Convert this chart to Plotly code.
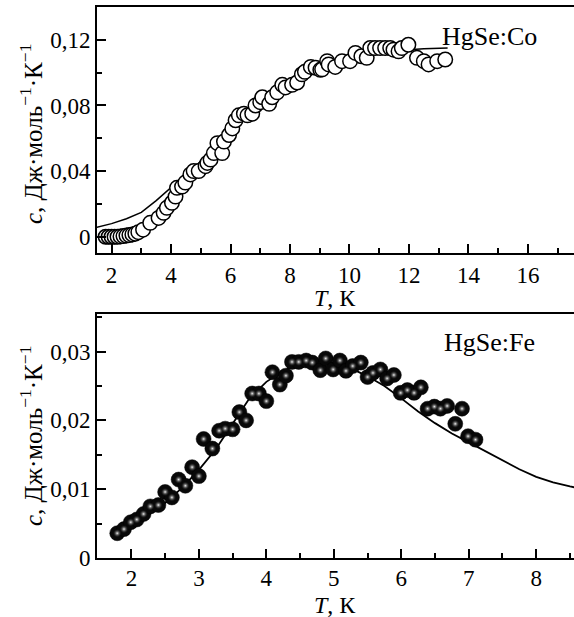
import plotly.graph_objects as go

# ---------------- data: HgSe:Co (top panel) ----------------
co_T = [1.80, 1.90, 2.00, 2.10, 2.20, 2.30, 2.40, 2.50, 2.60, 2.70, 2.80, 2.90,
        3.06, 3.30, 3.58, 3.75, 3.86, 4.03, 4.15, 4.20, 4.37, 4.48, 4.65, 4.76,
        4.93, 5.16, 5.22, 5.33, 5.44, 5.56, 5.72, 5.78, 5.95, 6.06, 6.17, 6.28,
        6.45, 6.57, 6.73, 6.84, 7.00, 7.07, 7.30, 7.40, 7.57, 7.74, 7.85, 8.07,
        8.24, 8.40, 8.50, 8.70, 8.86, 9.02, 9.08, 9.25, 9.30, 9.52, 9.75, 10.02,
        10.20, 10.40, 10.58, 10.70, 10.86, 11.03, 11.20, 11.37, 11.48, 11.65,
        11.76, 11.98, 12.27, 12.50, 12.66, 12.95, 13.22]
co_c = [0.0000, 0.0000, 0.0000, 0.0000, 0.0000, 0.0002, 0.0004, 0.0007, 0.0010, 0.0014, 0.0019, 0.0028,
        0.0043, 0.0085, 0.0115, 0.0146, 0.0176, 0.0207, 0.0245, 0.0298, 0.0306, 0.0330, 0.0380, 0.0400,
        0.0400, 0.0430, 0.0450, 0.0470, 0.0510, 0.0570, 0.0510, 0.0580, 0.0620, 0.0660, 0.0710, 0.0740,
        0.0750, 0.0740, 0.0750, 0.0800, 0.0820, 0.0850, 0.0810, 0.0850, 0.0880, 0.0926, 0.0910, 0.0926,
        0.0940, 0.0990, 0.1005, 0.1035, 0.1030, 0.1017, 0.1020, 0.1070, 0.1050, 0.1035, 0.1070, 0.1070,
        0.1120, 0.1100, 0.1090, 0.1150, 0.1150, 0.1150, 0.1150, 0.1150, 0.1140, 0.1130,
        0.1150, 0.1170, 0.1090, 0.1070, 0.1050, 0.1070, 0.1080]

co_fit_T = [1.5, 2.0, 2.5, 3.0, 3.5, 4.0, 4.5, 5.0, 5.5, 6.0, 6.5, 7.0, 7.5, 8.0,
            8.5, 9.0, 9.5, 10.0, 10.5, 11.0, 11.5, 12.0, 12.5, 13.0, 13.3]
co_fit_c = [0.0057, 0.0080, 0.0110, 0.0148, 0.0220, 0.0300, 0.0380, 0.0460, 0.0550, 0.0640,
            0.0720, 0.0800, 0.0870, 0.0920, 0.0970, 0.1010, 0.1050, 0.1080, 0.1100, 0.1120,
            0.1130, 0.1140, 0.1145, 0.1150, 0.1150]

# ---------------- data: HgSe:Fe (bottom panel) ----------------
fe_T = [1.79, 1.89, 1.99, 2.08, 2.18, 2.28, 2.40, 2.50, 2.60, 2.70, 2.80, 2.90,
        3.00, 3.07, 3.20, 3.30, 3.39, 3.50, 3.60, 3.70, 3.79, 3.89, 4.00, 4.09,
        4.20, 4.29, 4.38, 4.48, 4.59, 4.68, 4.80, 4.88, 4.99, 5.09, 5.18, 5.28,
        5.40, 5.50, 5.58, 5.69, 5.79, 5.89, 5.99, 6.09, 6.19, 6.29, 6.39, 6.49,
        6.58, 6.68, 6.80, 6.90, 6.99, 7.10]
fe_c = [0.0036, 0.0042, 0.0052, 0.0056, 0.0064, 0.0075, 0.0077, 0.0096, 0.0088, 0.0114, 0.0105, 0.0132,
        0.0119, 0.0173, 0.0159, 0.0185, 0.0188, 0.0187, 0.0212, 0.0200, 0.0239, 0.0239, 0.0228, 0.0270,
        0.0252, 0.0265, 0.0285, 0.0285, 0.0287, 0.0284, 0.0273, 0.0290, 0.0274, 0.0287, 0.0272, 0.0279,
        0.0284, 0.0263, 0.0269, 0.0274, 0.0261, 0.0266, 0.0240, 0.0244, 0.0240, 0.0248, 0.0217, 0.0220,
        0.0217, 0.0221, 0.0195, 0.0217, 0.0177, 0.0172]

fe_fit_T = [1.8, 2.0, 2.25, 2.5, 2.75, 3.0, 3.25, 3.5, 3.75, 4.0, 4.25, 4.5, 4.75, 5.0,
            5.25, 5.5, 5.75, 6.0, 6.25, 6.5, 6.75, 7.0, 7.25, 7.5, 7.75, 8.0, 8.25, 8.5, 8.6]
fe_fit_c = [0.0037, 0.0048, 0.0063, 0.0080, 0.0102, 0.0128, 0.0158, 0.0195, 0.0232, 0.0256,
            0.0272, 0.0282, 0.0286, 0.0284, 0.0276, 0.0264, 0.0250, 0.0232, 0.0213, 0.0196,
            0.0181, 0.0168, 0.0155, 0.0141, 0.0129, 0.0118, 0.0110, 0.0104, 0.0102]

# ---------------- tick labels ----------------
top_y_vals = [0, 0.04, 0.08, 0.12]
top_y_text = ["0", "0,04", "0,08", "0,12"]
bot_y_vals = [0, 0.01, 0.02, 0.03]
bot_y_text = ["0", "0,01", "0,02", "0,03"]

y_title = "<i>c</i>, Дж·моль<sup>−1</sup>·К<sup>−1</sup>"
x_title = "<i>T</i>, К"
label_co = "HgSe:Co"
label_fe = "HgSe:Fe"

FONT = "Liberation Serif, Times New Roman, Times, serif"
W, H = 574, 617
ML, MR, MT, MB = 97, 0, 7, 59
PW, PH = W - ML - MR, H - MT - MB


def px(x):
    return (x - ML) / PW


def py(y):
    return (H - MB - y) / PH


fig = go.Figure()

# top panel
fig.add_trace(go.Scatter(x=co_fit_T, y=co_fit_c, mode="lines",
                         line=dict(color="black", width=1.5),
                         xaxis="x", yaxis="y", showlegend=False))
fig.add_trace(go.Scatter(x=co_T, y=co_c, mode="markers",
                         marker=dict(symbol="circle", size=14.5, color="white",
                                     line=dict(color="black", width=1.5)),
                         xaxis="x", yaxis="y", showlegend=False))

# bottom panel
fig.add_trace(go.Scatter(x=fe_fit_T, y=fe_fit_c, mode="lines",
                         line=dict(color="black", width=1.8),
                         xaxis="x2", yaxis="y2", showlegend=False))
fig.add_trace(go.Scatter(x=fe_T, y=fe_c, mode="markers",
                         marker=dict(symbol="circle", size=15, color="#080808",
                                     line=dict(color="black", width=0.5)),
                         xaxis="x2", yaxis="y2", showlegend=False))
fig.add_trace(go.Scatter(x=fe_T, y=fe_c, mode="markers",
                         marker=dict(symbol="circle", size=9, color="rgba(0,0,0,0)",
                                     gradient=dict(type="radial", color="#f4f4f4"),
                                     line=dict(width=0)),
                         xaxis="x2", yaxis="y2", showlegend=False, hoverinfo="skip"))

axis_common = dict(showline=True, linecolor="black", linewidth=2, showgrid=False,
                   zeroline=False, ticks="inside", ticklen=9, tickwidth=1.5,
                   tickcolor="black", tickfont=dict(family=FONT, size=23, color="black"))

fig.update_layout(
    width=W, height=H,
    margin=dict(l=ML, r=MR, t=MT, b=MB, pad=0),
    paper_bgcolor="white", plot_bgcolor="white",
    font=dict(family=FONT, size=23, color="black"),
    xaxis=dict(domain=[0, 1], anchor="y", range=[1.51, 17.55], tick0=0, dtick=2,
               mirror=True,
               minor=dict(ticks="inside", ticklen=5, dtick=1, tickcolor="black", tickwidth=1.5),
               **axis_common),
    yaxis=dict(domain=[py(253), 1], anchor="x", range=[-0.0099, 0.140],
               tickvals=top_y_vals, ticktext=top_y_text,
               minor=dict(ticks="inside", ticklen=5, tick0=0, dtick=0.02, tickcolor="black", tickwidth=1.5),
               **axis_common),
    xaxis2=dict(domain=[0, 1], anchor="y2", range=[1.49, 8.56], tick0=0, dtick=1,
                mirror=True, ticklabelstandoff=-2,
                minor=dict(ticks="inside", ticklen=5, dtick=0.5, tickcolor="black", tickwidth=1.5),
                **axis_common),
    yaxis2=dict(domain=[0, py(314)], anchor="x2", range=[0, 0.03546],
                tickvals=bot_y_vals, ticktext=bot_y_text,
                minor=dict(ticks="inside", ticklen=5, tick0=0, dtick=0.005, tickcolor="black", tickwidth=1.5),
                **axis_common),
)

ytitle_font = dict(family=FONT, size=25, color="black")
xtitle_font = dict(family=FONT, size=24, color="black")
fig.add_annotation(text=y_title, xref="paper", yref="paper", x=px(31), y=py(134),
                   textangle=-90, showarrow=False, font=ytitle_font,
                   xanchor="center", yanchor="middle")
fig.add_annotation(text=y_title, xref="paper", yref="paper", x=px(31), y=py(436),
                   textangle=-90, showarrow=False, font=ytitle_font,
                   xanchor="center", yanchor="middle")
fig.add_annotation(text=x_title, xref="paper", yref="paper", x=px(335), y=py(298),
                   showarrow=False, font=xtitle_font, xanchor="center", yanchor="middle")
fig.add_annotation(text=x_title, xref="paper", yref="paper", x=px(335), y=py(605),
                   height=24, valign="middle",
                   showarrow=False, font=xtitle_font, xanchor="center", yanchor="middle")
fig.add_annotation(text=label_co, xref="paper", yref="paper", x=px(440), y=py(36),
                   showarrow=False, font=dict(family=FONT, size=26, color="black"),
                   xanchor="left", yanchor="middle")
fig.add_annotation(text=label_fe, xref="paper", yref="paper", x=px(442), y=py(342),
                   showarrow=False, font=dict(family=FONT, size=26, color="black"),
                   xanchor="left", yanchor="middle")

fig.write_html("out.html", config={"displayModeBar": False},
               post_script="document.body.style.margin='0';")
